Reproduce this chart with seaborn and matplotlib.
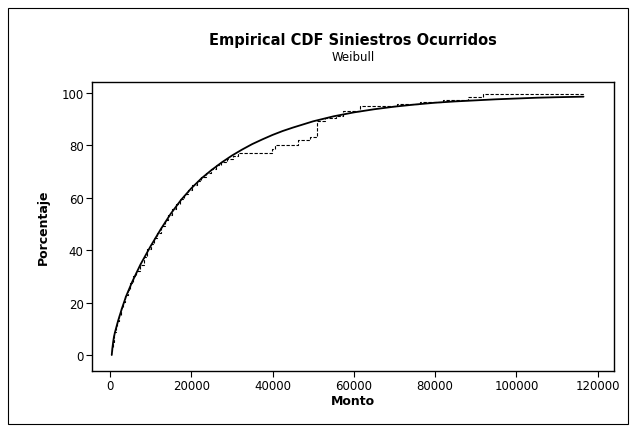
import pandas as pd
import matplotlib
matplotlib.use("Agg")
import matplotlib.pyplot as plt
import seaborn as sns
from matplotlib.patches import Rectangle

# Weibull fit curve
fit_monto = [450, 600, 800, 1000, 1300, 2000, 3000, 4000, 5500, 7500, 10000,
             12500, 15000, 17500, 20000, 22500, 25000, 27500, 30000, 32500,
             35000, 37500, 40000, 42500, 45000, 47500, 50000, 55000, 60000,
             65000, 70000, 75000, 80000, 85000, 90000, 95000, 100000, 105000,
             110000, 116500]
fit_pct = [0, 2.5, 5, 7, 9, 13, 18, 22.5, 28, 34.5, 41.5,
           48, 54, 59.2, 63.6, 67.4, 70.6, 73.5, 76.1, 78.4,
           80.5, 82.3, 84, 85.5, 86.8, 88, 89.2, 91.1, 92.6,
           93.8, 94.8, 95.6, 96.3, 96.8, 97.2, 97.6, 97.9, 98.2,
           98.4, 98.6]

# Empirical CDF steps (value where the step happens, level after the step)
ecdf_monto = [450, 550, 700, 900, 1100, 1400, 1800, 2200, 2700, 3200, 3800,
              4400, 5000, 5700, 6500, 7400, 8300, 9200, 10000, 10800, 11700,
              12600, 13500, 14400, 15300, 16200, 17200, 18200, 19200, 20200,
              21300, 22400, 23600, 24800, 26000, 27300, 28800, 30300, 31500,
              39800, 40600, 46200, 49200, 50900, 53000, 55500, 57300, 61500,
              70600, 76200, 81900, 88000, 91700, 116500]
ecdf_pct = [1.5, 3, 5, 7, 8.7, 10.7, 13, 15.2, 17.8, 20.2, 22.9,
            25, 27.5, 30, 32, 34.5, 37.5, 40.4, 42.5, 44.8, 46.5,
            49.3, 51.5, 53.6, 55.6, 57.5, 59.5, 61.3, 63.1, 64.8,
            66.4, 68, 69.6, 71, 72.5, 73.5, 75, 76, 77,
            78.6, 80.1, 82, 83.2, 89.3, 90.3, 91.3, 93, 95.1,
            95.8, 96.6, 97.2, 98.5, 99.6, 100]

fit_df = pd.DataFrame({"Monto": fit_monto, "Porcentaje": fit_pct})
ecdf_df = pd.DataFrame({"Monto": ecdf_monto, "Porcentaje": ecdf_pct})

sns.set_style("white")
plt.rcParams["font.family"] = ["DejaVu Sans"]
plt.rcParams["text.color"] = "black"
plt.rcParams["axes.labelcolor"] = "black"

fig = plt.figure(figsize=(6.36, 4.31), dpi=100)
ax = fig.add_axes([0.1447, 0.1369, 0.8207, 0.6705])

sns.lineplot(data=ecdf_df, x="Monto", y="Porcentaje", ax=ax, color="black",
             linewidth=0.8, drawstyle="steps-post",
             linestyle=(0, (3, 1.5)), estimator=None)
sns.lineplot(data=fit_df, x="Monto", y="Porcentaje", ax=ax, color="black",
             linewidth=1.3, estimator=None)

ax.set_xlim(-4400, 124000)
ax.set_ylim(-6.1, 104.2)
ax.set_xticks(range(0, 120001, 20000))
ax.set_yticks(range(0, 101, 20))
ax.tick_params(axis="both", direction="out", length=4, width=0.8,
               labelsize=8.5, colors="black", left=True, bottom=True, pad=2)
for s in ax.spines.values():
    s.set_color("black")
    s.set_linewidth(1.0)

ax.set_xlabel("Monto", fontsize=9, fontweight="bold", labelpad=1)
ax.set_ylabel("Porcentaje", fontsize=9, fontweight="bold", labelpad=8)

fig.text(0.555, 0.905, "Empirical CDF Siniestros Ocurridos", ha="center",
         va="center", fontsize=10.5, fontweight="bold", color="black")
fig.text(0.555, 0.866, "Weibull", ha="center", va="center", fontsize=8.5,
         color="black")

fig.patches.append(Rectangle((0.012, 0.015), 0.976, 0.965,
                             transform=fig.transFigure, fill=False,
                             edgecolor="black", linewidth=0.8))

fig.savefig("out.png", dpi=100)
